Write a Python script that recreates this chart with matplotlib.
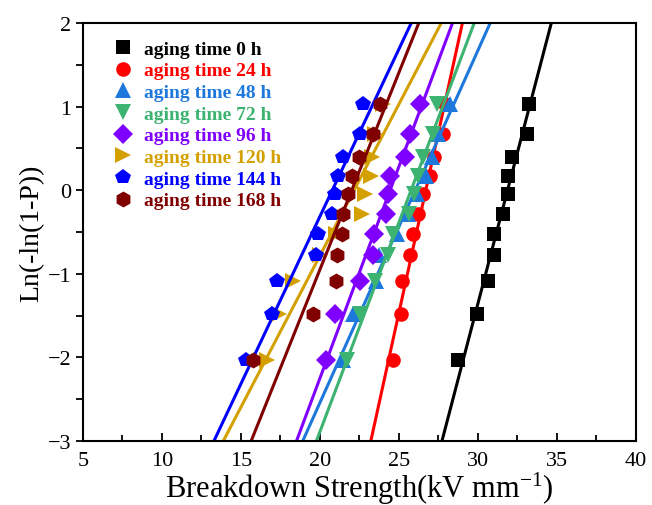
import numpy as np
import matplotlib
matplotlib.use("Agg")
import matplotlib.pyplot as plt
from matplotlib.ticker import MultipleLocator

plt.rcParams['font.family'] = ['Liberation Serif', 'DejaVu Serif']
plt.rcParams['mathtext.fontset'] = 'custom'
plt.rcParams['mathtext.rm'] = 'Liberation Serif'
plt.rcParams['mathtext.default'] = 'regular'

# Weibull plotting positions, shared by every sample set
lnlnP = [-2.03, -1.48, -1.09, -0.78, -0.52, -0.28, -0.05, 0.17, 0.40, 0.67, 1.03]

labels = ['aging time 0 h', 'aging time 24 h', 'aging time 48 h', 'aging time 72 h',
          'aging time 96 h', 'aging time 120 h', 'aging time 144 h', 'aging time 168 h']
colors = ['#000000', '#FF0000', '#1E78DC', '#3CB371',
          '#8000FF', '#D4A000', '#0000FF', '#800000']
markers = ['s', 'o', '^', 'v', 'D', '>', 'p', 'h']
msizes = [10, 10.5, 11, 11, 10, 11, 11.5, 11.5]

E_0h = [28.75, 29.92, 30.65, 31.03, 31.03, 31.56, 31.88, 31.90, 32.15, 33.08, 33.21]
E_24h = [24.60, 25.13, 25.21, 25.70, 25.87, 26.22, 26.50, 26.96, 27.20, 27.80, 27.90]
E_48h = [21.45, 22.10, 23.54, 23.75, 24.90, 25.55, 26.15, 26.70, 27.10, 27.45, 28.25]
E_72h = [21.69, 22.53, 23.50, 24.32, 24.60, 25.65, 25.95, 26.22, 26.54, 27.17, 27.38]
E_96h = [20.40, 20.95, 22.53, 23.37, 23.40, 24.21, 24.32, 24.43, 25.38, 25.70, 26.33]
E_120h = [16.62, 17.40, 18.31, 20.00, 21.00, 22.64, 22.85, 23.20, 23.30, 23.50, 24.00]
E_144h = [15.30, 16.96, 17.28, 19.75, 19.87, 20.74, 20.95, 21.16, 21.47, 22.53, 22.70]
E_168h = [15.78, 19.54, 21.01, 21.10, 21.37, 21.47, 21.79, 22.00, 22.50, 23.37, 23.80]

samples = [E_0h, E_24h, E_48h, E_72h, E_96h, E_120h, E_144h, E_168h]

fig = plt.figure(figsize=(6.52, 5.06), dpi=100)
ax = fig.add_axes([0.1273, 0.1265, 0.848, 0.826])

y_line = np.array([-3.3, 2.3])
for E, lab, c, m, ms in zip(samples, labels, colors, markers, msizes):
    E = np.array(E)
    y = np.array(lnlnP)
    # linear fit of strength against the Weibull variable
    a, b = np.polyfit(y, E, 1)
    ax.plot(E, y, linestyle='none', marker=m, color=c, markersize=ms,
            markeredgewidth=0, label=lab)
    ax.plot(a * y_line + b, y_line, color=c, linewidth=2.2)

ax.set_xlim(5, 40)
ax.set_ylim(-3, 2)
ax.xaxis.set_major_locator(MultipleLocator(5))
ax.xaxis.set_minor_locator(MultipleLocator(2.5))
ax.yaxis.set_major_locator(MultipleLocator(1))
ax.yaxis.set_minor_locator(MultipleLocator(0.5))
ax.tick_params(axis='x', which='both', direction='in', labelsize=16, width=1.3, pad=7)
ax.tick_params(axis='x', which='major', length=6)
ax.tick_params(axis='x', which='minor', length=4)
ax.tick_params(axis='y', which='both', direction='out', labelsize=16, width=1.3, length=5)
for s in ax.spines.values():
    s.set_linewidth(1.5)

ax.set_xlabel(r'Breakdown Strength(kV mm$^{-1}$)', fontsize=22, labelpad=0)
ax.set_ylabel('Ln(-ln(1-P))', fontsize=20, labelpad=2)

leg = ax.legend(loc='upper left', frameon=False, prop={'weight': 'bold', 'size': 14},
                handletextpad=0.3, labelspacing=0.21, borderaxespad=0.0,
                handlelength=1.6, bbox_to_anchor=(0.03, 0.978))
for txt, c in zip(leg.get_texts(), colors):
    txt.set_color(c)

fig.savefig('out.png', dpi=100)
